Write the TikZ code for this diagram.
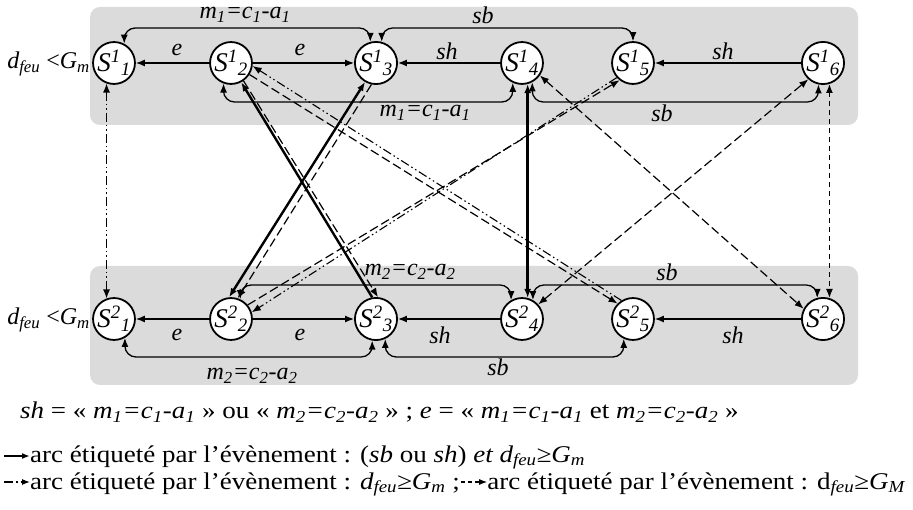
\documentclass[tikz,border=0pt]{standalone}
\usepackage{graphicx}
\usepackage{fontspec}
\setmainfont{Liberation Serif}
\usetikzlibrary{arrows.meta,calc}
\newcommand\mystate[2]{\textit{S\textsuperscript{#1}\textsubscript{#2}}}
\newcommand\myeq[1]{\textit{m\textsubscript{#1}=c\textsubscript{#1}-a\textsubscript{#1}}}
\newcommand\legwide[1]{\scalebox{1.125}[1]{#1}}
\tikzset{
  st/.style={circle, draw, line width=1.8pt, fill=white, minimum size=40pt, inner sep=0pt, font=\fontsize{27}{29}\selectfont},
  lbl/.style={font=\fontsize{24}{26}\selectfont\itshape, inner sep=0pt},
  legtext/.style={font=\fontsize{24}{26}\selectfont, inner sep=0pt, anchor=base west},
  onearrow/.style={-{Latex[length=9pt,width=7pt]}},
  twoarrow/.style={{Latex[length=9pt,width=7pt]}-{Latex[length=9pt,width=7pt]}},
  legarrow/.style={-{Latex[length=8pt,width=6pt]}},
  arcline/.style={line width=1.3pt, rounded corners=11pt},
  band/.style={fill=black!14, rounded corners=10pt},
  strong/.style={line width=2.4pt},
  dashM/.style={line width=1.2pt, dash pattern=on 9pt off 4pt},
  dashm/.style={line width=1.1pt, dash pattern=on 9pt off 3pt on 1.5pt off 3pt on 1.5pt off 3pt},
  dashS/.style={line width=1.3pt, dash pattern=on 5pt off 4pt},
}
\begin{document}
\begin{tikzpicture}[x=1pt,y=-1pt]
\useasboundingbox (0,0) rectangle (913,510);
% bands
\fill[band] (90,7) rectangle (858,125);
\fill[band] (90,266) rectangle (858,385);
% nodes
\node[st] (S11) at (114,63) {\mystate{1}{1}};
\node[st] (S12) at (231,63) {\mystate{1}{2}};
\node[st] (S13) at (376,63) {\mystate{1}{3}};
\node[st] (S14) at (522,63) {\mystate{1}{4}};
\node[st] (S15) at (633,63) {\mystate{1}{5}};
\node[st] (S16) at (823,63) {\mystate{1}{6}};
\node[st] (S21) at (114,319) {\mystate{2}{1}};
\node[st] (S22) at (231,319) {\mystate{2}{2}};
\node[st] (S23) at (376,319) {\mystate{2}{3}};
\node[st] (S24) at (522,319) {\mystate{2}{4}};
\node[st] (S25) at (633,319) {\mystate{2}{5}};
\node[st] (S26) at (823,319) {\mystate{2}{6}};
% side labels
\node[lbl, anchor=east] (c1) at (90,64) {d\textsubscript{feu} \upshape<\itshape G\textsubscript{m}};
\node[lbl, anchor=east] (c2) at (90,320) {d\textsubscript{feu} \upshape<\itshape G\textsubscript{m}};
% horizontal edges top
\draw[arcline, onearrow] (S12) -- (S11);
\draw[arcline, onearrow] (S12) -- (S13);
\draw[arcline, onearrow] (S14) -- (S13);
\draw[arcline, onearrow] (S16) -- (S15);
\node[lbl] (le1) at (177,50) {e};
\node[lbl] (le2) at (300,50) {e};
\node[lbl] (le3) at (447,51) {sh};
\node[lbl] (le4) at (723,51) {sh};
% arcs top
\draw[arcline, twoarrow] (S11.62) |- (245,28) -| (S13.105);
\draw[arcline, twoarrow] (S13.75) |- (500,28) -| (S15.90);
\draw[arcline, twoarrow] (S12.250) |- (370,102) -| (S14.245);
\draw[arcline, twoarrow] (S14.298) |- (680,102) -| (S16.258);
\node[lbl] (la1) at (245,15) {\myeq{1}};
\node[lbl] (la2) at (483,15) {sb};
\node[lbl] (la3) at (425,113) {\myeq{1}};
\node[lbl] (la4) at (662,113) {sb};
% horizontal edges bottom
\draw[arcline, onearrow] (S22) -- (S21);
\draw[arcline, onearrow] (S22) -- (S23);
\draw[arcline, onearrow] (S24) -- (S23);
\draw[arcline, onearrow] (S26) -- (S25);
\node[lbl] (lf1) at (177,335) {e};
\node[lbl] (lf2) at (300,335) {e};
\node[lbl] (lf3) at (440,335) {sh};
\node[lbl] (lf4) at (733,335) {sh};
% arcs bottom
\draw[arcline, twoarrow] (S22.65) |- (380,285) -| (S24.120);
\draw[arcline, twoarrow] (S24.60) |- (680,285) -| (S26.105);
\draw[arcline, twoarrow] (S21.300) |- (250,357) -| (S23.260);
\draw[arcline, twoarrow] (S23.295) |- (500,357) -| (S25.245);
\node[lbl] (lb1) at (410,272) {\myeq{2}};
\node[lbl] (lb2) at (667,272) {sb};
\node[lbl] (lb3) at (252,376) {\myeq{2}};
\node[lbl] (lb4) at (498,367) {sb};
% cross connectors
\draw[strong, twoarrow] (S22.95) -- (S13.240);
\draw[dashM, onearrow] (S13.258) -- (S22.72);
\draw[strong, onearrow] (S23.100) -- (S12.298);
\draw[dashM, onearrow] (S12.305) -- (S23.85);
\draw[dashm, onearrow] (S25.122) -- (S12.352);
\draw[dashM, onearrow] (S12.328) -- (S25.135);
\draw[dashm, onearrow] (S15.222) -- (S22.18);
\draw[dashM, onearrow] (S22.40) -- (S15.232);
\draw[strong, twoarrow] (S14.285) -- (S24.75);
\draw[dashM, twoarrow] (S14.325) -- (S26.152);
\draw[dashM, twoarrow] (S24.42) -- (S16.228);
\draw[dashS, twoarrow] (S16.287) -- (S26.73);
\draw[dashm, twoarrow] (S11.250) -- (S21.110);
% legend
\node[legtext] (g1) at (20,419) {\legwide{\textit{sh} = « \myeq{1} » ou « \myeq{2} » ; \textit{e} = « \myeq{1} et \myeq{2} »}};
\coordinate (a1s) at (4,456);
\coordinate (a1e) at (30,456);
\draw[legarrow, line width=2pt] (a1s) -- (a1e);
\node[legtext] (g2) at (30,462) {\legwide{arc étiqueté par l’évènement : (\textit{sb} ou \textit{sh}) \textit{et d\textsubscript{feu}≥G\textsubscript{m}}}};
\coordinate (a2s) at (4,482);
\coordinate (a2e) at (30,482);
\draw[legarrow, dashm] (a2s) -- (a2e);
\node[legtext] (g3) at (30,489) {\legwide{arc étiqueté par l’évènement : \textit{d\textsubscript{feu}≥G\textsubscript{m}} ;}};
\coordinate (a3s) at ($(g3.base east)+(1,-7)$);
\coordinate (a3e) at ($(a3s)+(26,0)$);
\draw[legarrow, line width=1.2pt, dash pattern=on 4pt off 3pt] (a3s) -- (a3e);
\node[legtext] (g4) at ($(a3e)+(0,7)$) {\legwide{arc étiqueté par l’évènement : d\textsubscript{\textit{feu}}≥\textit{G\textsubscript{M}}}};
\end{tikzpicture}
\end{document}
